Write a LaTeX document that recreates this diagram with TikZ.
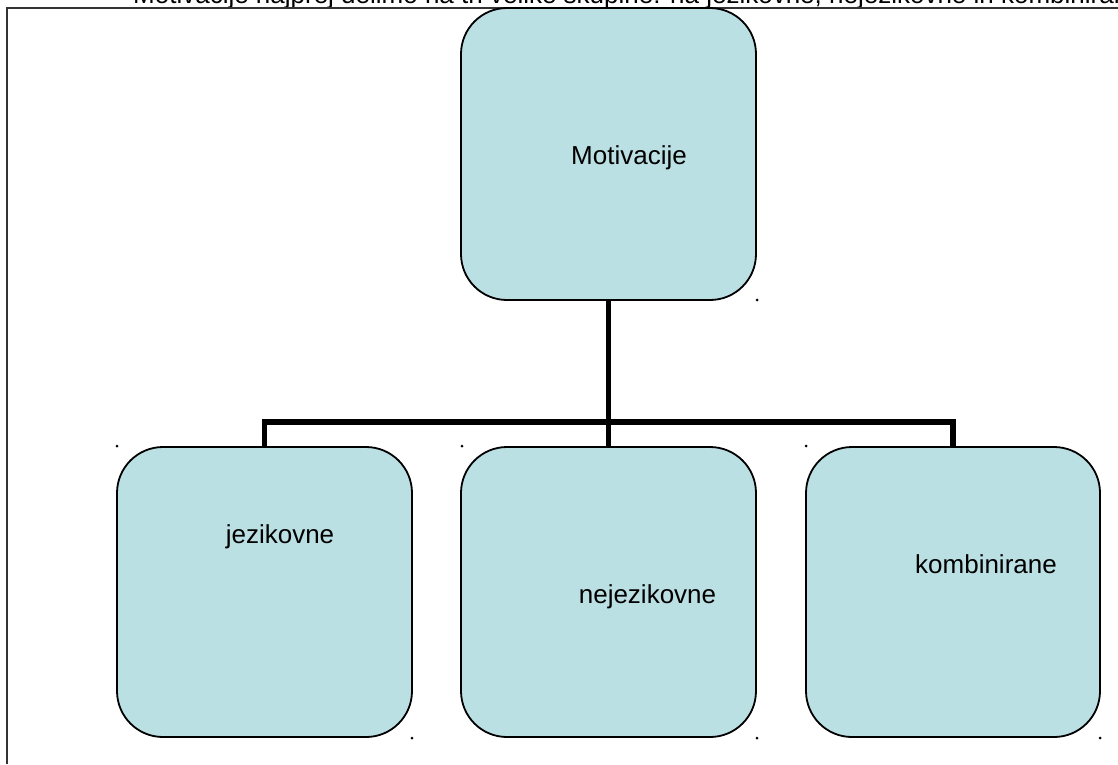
\documentclass[tikz,border=0pt]{standalone}
\usepackage{fontspec}
\setmainfont{Liberation Sans}
\definecolor{boxfill}{RGB}{187,224,227}
\begin{document}
\begin{tikzpicture}[x=1pt,y=-1pt,
  box/.style={draw=black, line width=1.8pt, fill=boxfill, rounded corners=46pt,
              minimum width=295pt, inner sep=0pt, outer sep=0pt},
  lbl/.style={font=\fontsize{26}{30}\selectfont, anchor=base, inner sep=0pt},
  link/.style={line width=5.5pt, line join=miter},
  marker/.style={fill=black, circle, inner sep=0pt, minimum size=3pt}]
  \clip (0,0) rectangle (1118,764);

  % caption line running across the top edge
  \node[lbl, anchor=base west] (caption) at (133,3)
    {Motivacije najprej delimo na tri velike skupine: na jezikovne, nejezikovne in kombinirane};

  % frame (top and left edges)
  \coordinate (frameBL) at (7,764);
  \coordinate (frameTL) at (7,8);
  \coordinate (frameTR) at (1118,8);
  \draw[line width=1.5pt, draw=black!80] (frameBL) -- (frameTL) -- (frameTR);

  % boxes
  \node[box, minimum height=292pt] (root) at (608.5,154) {};
  \node[box, minimum height=290pt] (lang) at (264.5,592) {};
  \node[box, minimum height=290pt] (nonlang) at (608.5,592) {};
  \node[box, minimum height=290pt, minimum width=294pt] (comb) at (953,592) {};

  % labels
  \node[lbl] (rootText) at (629,164) {Motivacije};
  \node[lbl] (langText) at (280,543) {jezikovne};
  \node[lbl] (nonlangText) at (647.5,603) {nejezikovne};
  \node[lbl] (combText) at (986,573) {kombinirane};

  % tree connectors
  \coordinate (bus) at (608.5,422);
  \draw[link] (root.south) -- (bus);
  \draw[link] (lang.north) |- (bus) -| (comb.north);
  \draw[link] (bus) -- (nonlang.north);

  % small corner markers
  \node[marker] (m1) at (757,300) {};
  \node[marker] (m2) at (117,446) {};
  \node[marker] (m3) at (462,446) {};
  \node[marker] (m4) at (806,446) {};
  \node[marker] (m5) at (412,738) {};
  \node[marker] (m6) at (757,738) {};
  \node[marker] (m7) at (1100,738) {};
\end{tikzpicture}
\end{document}
